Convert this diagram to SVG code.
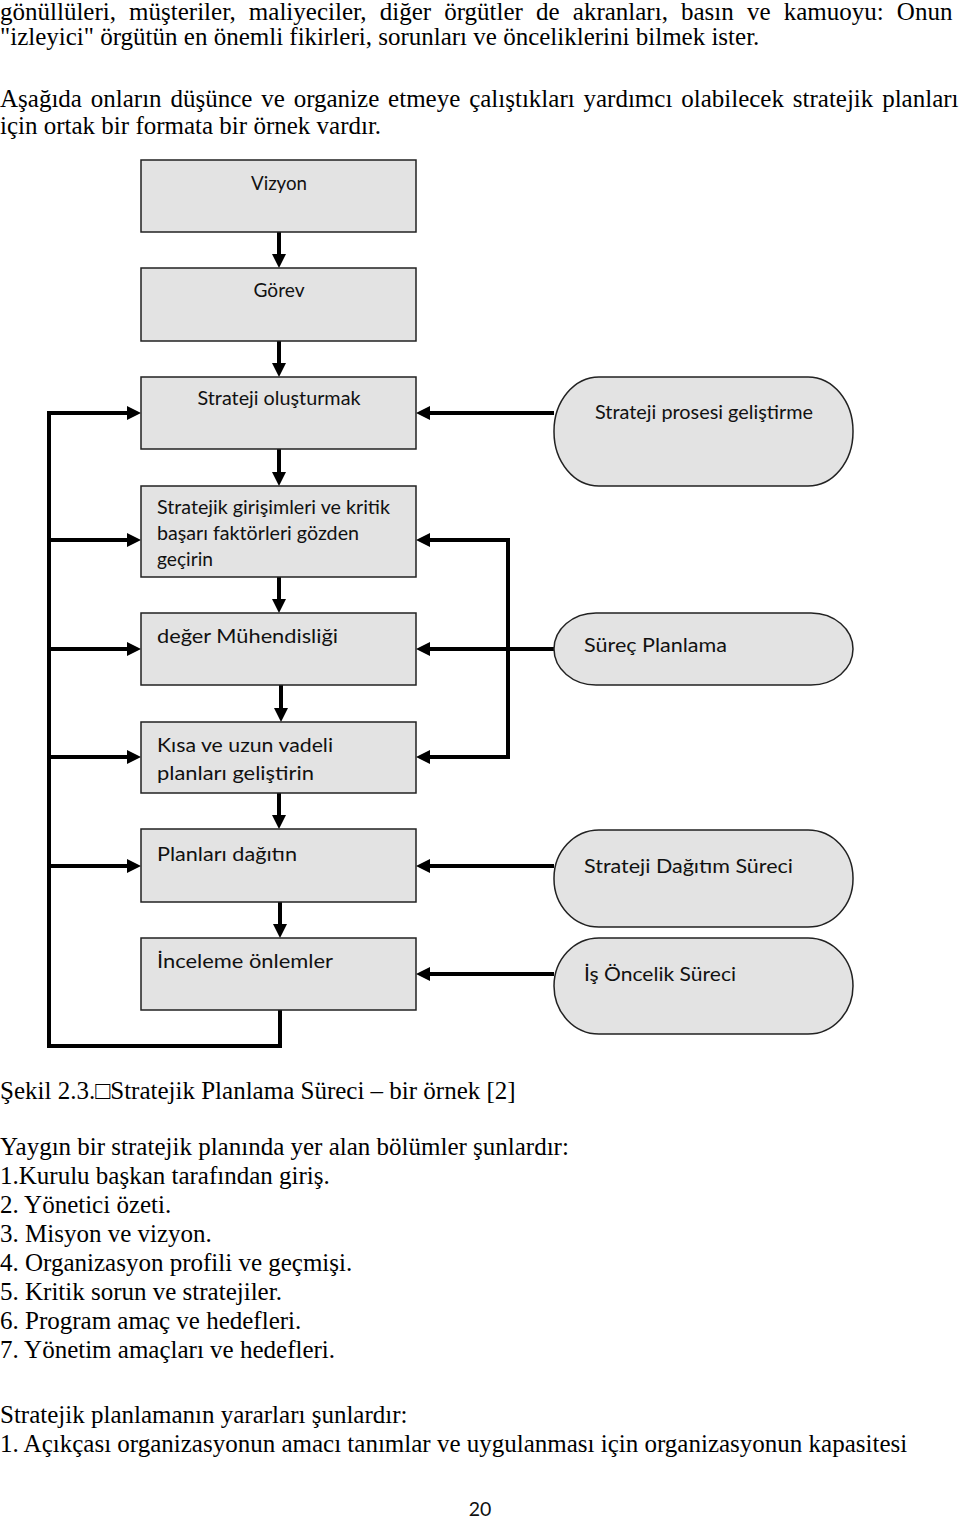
<svg xmlns="http://www.w3.org/2000/svg" width="960" height="1521" viewBox="0 0 960 1521">
<style>
.box{fill:#e3e3e3;stroke:#222;stroke-width:1.5}
.lbl{font-family:"Lato","Open Sans",sans-serif;font-size:19.5px;fill:#111}
.body{font-family:"Liberation Serif","Times New Roman",serif;font-size:25px;fill:#000}
.conn{fill:none;stroke:#000;stroke-width:4;stroke-linejoin:miter}
.arr{marker-end:url(#ah)}
</style>
<defs>
<marker id="ah" markerUnits="userSpaceOnUse" markerWidth="14" markerHeight="14" refX="4" refY="7" orient="auto-start-reverse">
<path d="M0,0 L14,7 L0,14 Z" fill="#000"/>
</marker>
</defs>
<rect width="960" height="1521" fill="#fff"/>

<g id="page-text-top">
<text class="body" x="0" y="20" word-spacing="6.9">gönüllüleri, müşteriler, maliyeciler, diğer örgütler de akranları, basın ve kamuoyu: Onun</text>
<text class="body" x="0" y="45">"izleyici" örgütün en önemli fikirleri, sorunları ve önceliklerini bilmek ister.</text>
<text class="body" x="0" y="107" word-spacing="2.6">Aşağıda onların düşünce ve organize etmeye çalıştıkları yardımcı olabilecek stratejik planları</text>
<text class="body" x="0" y="134">için ortak bir formata bir örnek vardır.</text>
</g>

<g id="connectors">
<path class="conn arr" d="M279,232 V258"/>
<path class="conn arr" d="M279,341 V367"/>
<path class="conn arr" d="M279,449 V476"/>
<path class="conn arr" d="M279,577 V603"/>
<path class="conn arr" d="M281,685 V712"/>
<path class="conn arr" d="M279,793 V819"/>
<path class="conn arr" d="M280,902 V928"/>
<path class="conn arr" d="M280,1010 V1046 H49 V413 H131"/>
<path class="conn arr" d="M49,540 H131"/>
<path class="conn arr" d="M49,649 H131"/>
<path class="conn arr" d="M49,757 H131"/>
<path class="conn arr" d="M49,866 H131"/>
<path class="conn arr" d="M554,413 H426"/>
<path class="conn arr" d="M554,649 H426"/>
<path class="conn arr" d="M426,540 H508 V757 H426" marker-start="url(#ah)"/>
<path class="conn arr" d="M554,866 H426"/>
<path class="conn arr" d="M554,974 H426"/>
</g>

<g id="vizyon">
<rect class="box" x="141" y="160" width="275" height="72"/>
<text class="lbl" x="279" y="190" text-anchor="middle" textLength="56" lengthAdjust="spacingAndGlyphs">Vizyon</text>
</g>
<g id="gorev">
<rect class="box" x="141" y="268" width="275" height="73"/>
<text class="lbl" x="279" y="297" text-anchor="middle" textLength="51" lengthAdjust="spacingAndGlyphs">Görev</text>
</g>
<g id="strateji-olusturmak">
<rect class="box" x="141" y="377" width="275" height="72"/>
<text class="lbl" x="279" y="405" text-anchor="middle" textLength="163" lengthAdjust="spacingAndGlyphs">Strateji oluşturmak</text>
</g>
<g id="stratejik-girisimler">
<rect class="box" x="141" y="486" width="275" height="91"/>
<text class="lbl" x="157" y="514" textLength="233" lengthAdjust="spacingAndGlyphs">Stratejik girişimleri ve kritik</text>
<text class="lbl" x="157" y="540" textLength="202" lengthAdjust="spacingAndGlyphs">başarı faktörleri gözden</text>
<text class="lbl" x="157" y="566" textLength="56" lengthAdjust="spacingAndGlyphs">geçirin</text>
</g>
<g id="deger-muhendisligi">
<rect class="box" x="141" y="613" width="275" height="72"/>
<text class="lbl" x="157" y="643" textLength="181" lengthAdjust="spacingAndGlyphs">değer Mühendisliği</text>
</g>
<g id="kisa-uzun">
<rect class="box" x="141" y="722" width="275" height="71"/>
<text class="lbl" x="157" y="752" textLength="176" lengthAdjust="spacingAndGlyphs">Kısa ve uzun vadeli</text>
<text class="lbl" x="157" y="780" textLength="157" lengthAdjust="spacingAndGlyphs">planları geliştirin</text>
</g>
<g id="planlari-dagitin">
<rect class="box" x="141" y="829" width="275" height="73"/>
<text class="lbl" x="157" y="861" textLength="140" lengthAdjust="spacingAndGlyphs">Planları dağıtın</text>
</g>
<g id="inceleme">
<rect class="box" x="141" y="938" width="275" height="72"/>
<text class="lbl" x="157" y="968" textLength="176" lengthAdjust="spacingAndGlyphs">İnceleme önlemler</text>
</g>

<g id="strateji-prosesi">
<rect class="box" x="554" y="377" width="299" height="109" rx="45" ry="54"/>
<text class="lbl" x="595" y="419" textLength="218" lengthAdjust="spacingAndGlyphs">Strateji prosesi geliştirme</text>
</g>
<g id="surec-planlama">
<rect class="box" x="554" y="613" width="299" height="72" rx="42" ry="36"/>
<text class="lbl" x="584" y="652" textLength="143" lengthAdjust="spacingAndGlyphs">Süreç Planlama</text>
</g>
<g id="strateji-dagitim">
<rect class="box" x="554" y="830" width="299" height="97" rx="45" ry="48"/>
<text class="lbl" x="584" y="873" textLength="209" lengthAdjust="spacingAndGlyphs">Strateji Dağıtım Süreci</text>
</g>
<g id="is-oncelik">
<rect class="box" x="554" y="938" width="299" height="96" rx="45" ry="48"/>
<text class="lbl" x="584" y="981" textLength="152" lengthAdjust="spacingAndGlyphs">İş Öncelik Süreci</text>
</g>

<g id="page-text-bottom">
<text class="body" x="0" y="1099">Şekil 2.3.□Stratejik Planlama Süreci – bir örnek [2]</text>
<text class="body" x="0" y="1155">Yaygın bir stratejik planında yer alan bölümler şunlardır:</text>
<text class="body" x="0" y="1184">1.Kurulu başkan tarafından giriş.</text>
<text class="body" x="0" y="1213">2. Yönetici özeti.</text>
<text class="body" x="0" y="1242">3. Misyon ve vizyon.</text>
<text class="body" x="0" y="1271">4. Organizasyon profili ve geçmişi.</text>
<text class="body" x="0" y="1300">5. Kritik sorun ve stratejiler.</text>
<text class="body" x="0" y="1329">6. Program amaç ve hedefleri.</text>
<text class="body" x="0" y="1358">7. Yönetim amaçları ve hedefleri.</text>
<text class="body" x="0" y="1423">Stratejik planlamanın yararları şunlardır:</text>
<text class="body" x="0" y="1452">1. Açıkçası organizasyonun amacı tanımlar ve uygulanması için organizasyonun kapasitesi</text>
<text class="lbl" x="480" y="1516" text-anchor="middle">20</text>
</g>
</svg>
